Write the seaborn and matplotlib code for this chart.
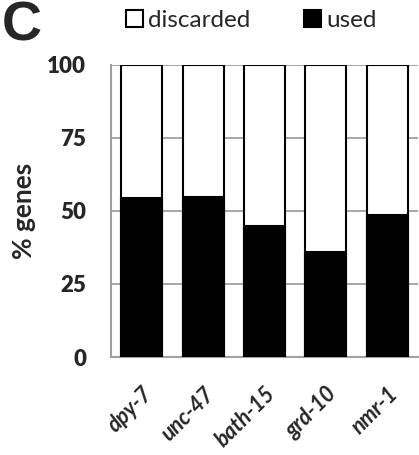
import seaborn as sns
import matplotlib.pyplot as plt
import pandas as pd

genes = ['dpy-7', 'unc-47', 'bath-15', 'grd-10', 'nmr-1']
used = [54.3, 54.8, 44.9, 36.0, 48.5]
discarded = [45.7, 45.2, 55.1, 64.0, 51.5]
yticks = [0, 25, 50, 75, 100]


def makePlot(imageFile):
    sns.set_theme(style='white')
    plt.rcParams['font.family'] = ['Lato', 'DejaVu Sans']

    df = pd.DataFrame({'gene': genes, 'used': used, 'discarded': discarded})
    df['total'] = df['used'] + df['discarded']

    fig = plt.figure(figsize=(4.19, 4.55), dpi=100)
    ax = fig.add_axes([111 / 419, 98 / 455, 307 / 419, 292 / 455])

    sns.barplot(data=df, x='gene', y='total', color='white', edgecolor='black',
                linewidth=1.5, width=0.67, saturation=1, ax=ax, label='discarded', zorder=3)
    sns.barplot(data=df, x='gene', y='used', color='black', edgecolor='black',
                linewidth=1.5, width=0.67, saturation=1, ax=ax, label='used', zorder=4)

    ax.set_ylim(0, 100)
    ax.set_xlim(-0.5, 4.5)
    ax.yaxis.grid(True, color='#a0a0a0', linewidth=1.3, zorder=0)
    ax.set_axisbelow(True)
    for side in ['top', 'right']:
        ax.spines[side].set_visible(False)
    for side in ['left', 'bottom']:
        ax.spines[side].set_color('#a0a0a0')
        ax.spines[side].set_linewidth(1.5)

    ax.tick_params(axis='y', length=0, pad=18)
    ax.set_yticks(yticks, labels=[str(v) for v in yticks], fontsize=16, fontweight='heavy')
    ax.tick_params(axis='x', length=0, pad=19)
    ax.set_xticks(range(len(genes)))
    ax.set_xticklabels(genes, rotation=45, ha='right', va='top', rotation_mode='anchor',
                       fontsize=15.5, fontweight='bold', fontstyle='italic')

    ax.set_xlabel('')
    ax.set_ylabel('% genes', fontsize=19, fontweight='bold')
    ax.yaxis.set_label_coords(-0.245, 0.5)

    handles, labels = ax.get_legend_handles_labels()
    if ax.get_legend() is not None:
        ax.get_legend().remove()
    fig.legend(handles[:2], labels[:2], loc='center', bbox_to_anchor=(0.6, 0.955), ncol=2,
               frameon=False, fontsize=17.5, handlelength=0.7, handleheight=0.7,
               handletextpad=0.2, columnspacing=2.2, borderpad=0)

    fig.text(0.005, 0.998, 'C', fontsize=40, fontweight='bold', ha='left', va='top',
             family=['Liberation Sans', 'DejaVu Sans'])

    plt.savefig(imageFile, dpi=100)
    print("saved!")


def main():
    makePlot('out.png')


if __name__ == "__main__":
    main()
